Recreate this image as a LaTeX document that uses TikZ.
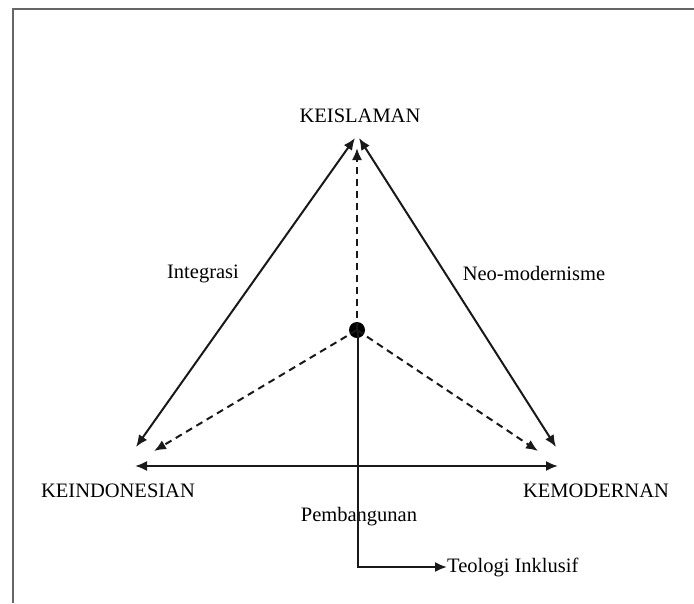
\documentclass[tikz,border=0pt]{standalone}
\usepackage{fontspec}
\setmainfont{Liberation Serif}
\usetikzlibrary{arrows.meta}
\begin{document}
\begin{tikzpicture}[x=1pt,y=-1pt,
  lbl/.style={font=\fontsize{20.5}{24}\selectfont, text=black, inner sep=0pt},
  solidline/.style={line width=2pt, black!90},
  dashline/.style={line width=2pt, black!90, dash pattern=on 7pt off 5pt},
  tip/.style={-{Latex[length=12pt,width=10pt]}},
  dtip/.style={{Latex[length=12pt,width=10pt]}-{Latex[length=12pt,width=10pt]}}]
\useasboundingbox (0,0) rectangle (694,603);
\draw[line width=2pt, black!60] (694,8.5) -- (12.5,8.5) -- (12.5,603);
% labels
\node[lbl] (isl) at (360,116) {KEISLAMAN};
\node[lbl] (ind) at (118,491) {KEINDONESIAN};
\node[lbl] (mod) at (596,491) {KEMODERNAN};
\node[lbl] (int) at (203,274) {Integrasi};
\node[lbl] (neo) at (534,273) {Neo-modernisme};
\node[lbl] (pem) at (359,517) {Pembangunan};
\node[lbl, anchor=west] (teo) at (447,567) {Teologi Inklusif};
% coordinates
\coordinate (apexL) at (355,138);
\coordinate (apexR) at (359,138);
\coordinate (bl) at (136,447);
\coordinate (br) at (556,447);
\coordinate (hl) at (135,466);
\coordinate (hr) at (558,466);
\coordinate (dtop) at (357,148);
\coordinate (dbl) at (154,451);
\coordinate (dbr) at (538,451);
% center dot
\node[circle, fill=black, inner sep=0pt, minimum size=16pt] (dot) at (357,330) {};
% solid arrows
\draw[solidline, dtip] (bl) -- (apexL);
\draw[solidline, dtip] (br) -- (apexR);
\draw[solidline, dtip] (hl) -- (hr);
% dashed arrows
\draw[dashline, tip] (dot.center) -- (dtop);
\draw[dashline, tip] (dot.center) -- (dbl);
\draw[dashline, tip] (dot.center) -- (dbr);
% line to Teologi Inklusif
\draw[solidline, tip] (dot.center) ++(1,0) |- (teo.west);
\end{tikzpicture}
\end{document}
